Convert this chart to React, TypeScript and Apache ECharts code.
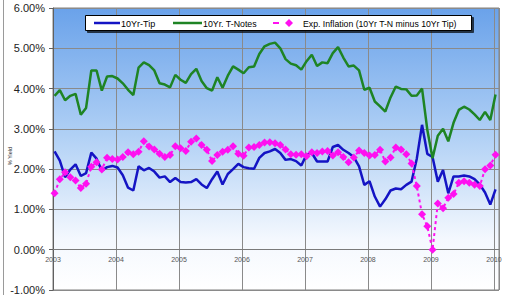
import React, { useEffect, useRef } from "react";
import * as echarts from "echarts";

// month-end observations, Dec 2002 .. Dec 2009
const firstYear = 2002;
const firstMonth = 12;
const monthCount = 85;
const months: string[] = [];
for (let k = 0; k < monthCount; k++) {
  const m0 = firstMonth - 1 + k;
  const y = firstYear + Math.floor(m0 / 12);
  const m = (m0 % 12) + 1;
  months.push(`${y}-${String(m).padStart(2, "0")}`);
}

const yearTicks = [2003, 2004, 2005, 2006, 2007, 2008, 2009, 2010];
const yTicks = [-1, 0, 1, 2, 3, 4, 5, 6];

const tip = [
  2.44, 2.21, 1.80, 1.99, 2.12, 1.83, 1.90, 2.41, 2.26, 1.96, 2.05, 2.08,
  2.04, 1.85, 1.54, 1.47, 2.07, 1.97, 2.03, 1.94, 1.79, 1.82, 1.68, 1.78,
  1.68, 1.67, 1.68, 1.75, 1.62, 1.53, 1.75, 1.94, 1.62, 1.88, 2.00, 2.13,
  2.05, 2.02, 2.01, 2.28, 2.40, 2.44, 2.50, 2.40, 2.23, 2.25, 2.20, 2.09,
  2.36, 2.40, 2.19, 2.19, 2.19, 2.55, 2.60, 2.48, 2.40, 2.30, 2.07, 1.61,
  1.70, 1.32, 1.07, 1.25, 1.47, 1.52, 1.50, 1.61, 1.69, 2.26, 3.10, 2.38,
  2.30, 1.69, 1.98, 1.40, 1.82, 1.82, 1.84, 1.82, 1.75, 1.62, 1.42, 1.12,
  1.50,
];

const tNotes = [
  3.82, 3.96, 3.71, 3.82, 3.87, 3.35, 3.52, 4.45, 4.45, 3.95, 4.30, 4.31,
  4.25, 4.13, 3.97, 3.84, 4.52, 4.65, 4.58, 4.45, 4.13, 4.10, 4.03, 4.34,
  4.22, 4.14, 4.36, 4.49, 4.19, 4.01, 3.95, 4.28, 4.02, 4.32, 4.55, 4.47,
  4.38, 4.53, 4.55, 4.86, 5.05, 5.11, 5.14, 5.00, 4.73, 4.62, 4.58, 4.47,
  4.68, 4.84, 4.56, 4.65, 4.63, 4.88, 5.03, 4.77, 4.55, 4.57, 4.45, 3.97,
  4.02, 3.68, 3.56, 3.43, 3.78, 4.05, 3.99, 3.98, 3.82, 3.83, 4.00, 2.98,
  2.27, 2.83, 3.00, 2.69, 3.15, 3.47, 3.55, 3.48, 3.36, 3.22, 3.42, 3.22,
  3.85,
];

const expInflation = [
  1.40, 1.75, 1.92, 1.80, 1.72, 1.53, 1.64, 2.06, 2.17, 1.99, 2.28, 2.25,
  2.24, 2.30, 2.42, 2.37, 2.43, 2.69, 2.56, 2.49, 2.38, 2.30, 2.35, 2.57,
  2.52, 2.45, 2.68, 2.76, 2.60, 2.48, 2.20, 2.35, 2.43, 2.48, 2.57, 2.38,
  2.33, 2.54, 2.55, 2.60, 2.66, 2.67, 2.64, 2.60, 2.49, 2.37, 2.36, 2.37,
  2.32, 2.42, 2.40, 2.44, 2.45, 2.34, 2.42, 2.30, 2.17, 2.29, 2.46, 2.40,
  2.34, 2.35, 2.48, 2.19, 2.29, 2.54, 2.49, 2.37, 2.14, 1.58, 0.88, 0.58,
  0.00, 1.15, 1.03, 1.29, 1.38, 1.66, 1.70, 1.66, 1.61, 1.58, 2.00, 2.09,
  2.36,
];

const seriesNames = [
  "10Yr-Tip",
  "10Yr. T-Notes",
  "Exp. Inflation (10Yr T-N minus 10Yr Tip)",
];

// month-end date -> decimal year (end of month ≈ start of next month)
const toX = (s: string) => {
  const [y, m] = s.split("-").map(Number);
  return y + m / 12 + 0.025;
};
const pair = (vals: number[]) => months.map((mo, i) => [toX(mo), vals[i]]);

const FONT = '"Liberation Sans", Arial, sans-serif';
const BLUE = "#1414C4";
const GREEN = "#1E8424";
const PINK = "#FF10F0";

const W = 506;
const H = 295;
const GRID = { left: 53, right: 7, top: 8, bottom: 5 };
const yMin = yTicks[0];
const yMax = yTicks[yTicks.length - 1];
// lift the date axis from the plot bottom (yMin) up to the zero line
const zeroOffset = -((0 - yMin) / (yMax - yMin)) * (H - GRID.top - GRID.bottom);

export default function App() {
  const ref = useRef<HTMLDivElement>(null);
  useEffect(() => {
    if (!ref.current) return;
    const chart = echarts.init(ref.current, undefined, { renderer: "svg" });
    const option: any = {
      animation: false,
      textStyle: { fontFamily: FONT },
      grid: {
        ...GRID,
        outerBoundsMode: "none",
        containLabel: false,
        show: true,
        borderColor: "#808080",
        borderWidth: 1,
        backgroundColor: {
          type: "linear",
          x: 0,
          y: 0,
          x2: 0,
          y2: 1,
          colorStops: [
            { offset: 0, color: "#6AA2EA" },
            { offset: 0.45, color: "#B0D0F5" },
            { offset: 0.82, color: "#F4F8FE" },
            { offset: 1, color: "#FFFFFF" },
          ],
        },
      },
      xAxis: {
        type: "value",
        position: "bottom",
        offset: zeroOffset,
        min: yearTicks[0],
        max: yearTicks[yearTicks.length - 1] + 0.08,
        interval: 1,
        axisLine: { onZero: false, lineStyle: { color: "#7a7a7a", width: 1 } },
        axisTick: { show: false },
        axisLabel: {
          fontSize: 7,
          color: "#555",
          margin: 6,
          fontFamily: FONT,
          formatter: (v: number) =>
            yearTicks.includes(Math.round(v * 1000) / 1000) ? String(Math.round(v)) : "",
        },
        splitLine: { show: true, lineStyle: { color: "#8a8a8a", width: 1 } },
      },
      yAxis: {
        type: "value",
        min: yMin,
        max: yMax,
        interval: 1,
        axisLine: { show: true, onZero: false, lineStyle: { color: "#606060" } },
        axisTick: { show: true, length: 4, lineStyle: { color: "#606060" } },
        axisLabel: {
          fontSize: 11,
          color: "#222",
          margin: 8,
          fontFamily: FONT,
          formatter: (v: number) => v.toFixed(2) + "%",
        },
        splitLine: { show: true, lineStyle: { color: "#8a8a8a", width: 1 } },
      },
      series: [
        {
          name: seriesNames[0],
          type: "line",
          data: pair(tip),
          symbol: "none",
          lineStyle: { color: BLUE, width: 2.5 },
          z: 2,
        },
        {
          name: seriesNames[1],
          type: "line",
          data: pair(tNotes),
          symbol: "none",
          lineStyle: { color: GREEN, width: 2.5 },
          z: 3,
        },
        {
          name: seriesNames[2],
          type: "line",
          data: pair(expInflation),
          symbol: "diamond",
          symbolSize: 8,
          itemStyle: { color: PINK },
          lineStyle: { color: PINK, width: 2, type: [3, 3] },
          z: 4,
        },
      ],
      graphic: [
        {
          type: "line",
          shape: { x1: 3.5, y1: 0, x2: 3.5, y2: 295 },
          style: { stroke: "#9a9a9a", lineWidth: 1 },
        },
        {
          type: "text",
          x: 10,
          y: 156,
          rotation: Math.PI / 2,
          style: {
            text: "% Yield",
            fontSize: 5.5,
            fontFamily: FONT,
            fill: "#333",
            align: "center",
            verticalAlign: "middle",
          },
        },
        {
          type: "rect",
          shape: { x: 85.5, y: 15.5, width: 386, height: 15 },
          style: {
            fill: "#ffffff",
            stroke: "#000",
            lineWidth: 1,
            shadowColor: "rgba(0,0,0,0.7)",
            shadowBlur: 1,
            shadowOffsetX: 2,
            shadowOffsetY: 2,
          },
          z: 10,
        },
        {
          type: "line",
          shape: { x1: 94, y1: 23, x2: 120, y2: 23 },
          style: { stroke: BLUE, lineWidth: 2.5 },
          z: 11,
        },
        {
          type: "text",
          x: 121,
          y: 23.5,
          style: { text: seriesNames[0], fontSize: 9, fontFamily: FONT, fill: "#000", verticalAlign: "middle" },
          z: 11,
        },
        {
          type: "line",
          shape: { x1: 173, y1: 23, x2: 202, y2: 23 },
          style: { stroke: GREEN, lineWidth: 2.5 },
          z: 11,
        },
        {
          type: "text",
          x: 203,
          y: 23.5,
          style: { text: seriesNames[1], fontSize: 8.8, fontFamily: FONT, fill: "#000", verticalAlign: "middle" },
          z: 11,
        },
        {
          type: "line",
          shape: { x1: 273, y1: 23, x2: 279, y2: 23 },
          style: { stroke: PINK, lineWidth: 2 },
          z: 11,
        },
        {
          type: "polygon",
          shape: { points: [[289, 19], [293, 23], [289, 27], [285, 23]] },
          style: { fill: PINK },
          z: 11,
        },
        {
          type: "text",
          x: 303,
          y: 23.5,
          style: { text: seriesNames[2], fontSize: 8.7, fontFamily: FONT, fill: "#000", verticalAlign: "middle" },
          z: 11,
        },
      ],
    };
    chart.setOption(option);
    return () => chart.dispose();
  }, []);
  return (
    <div
      ref={ref}
      style={{ position: "fixed", left: 0, top: 0, width: W, height: H, background: "#fff" }}
    />
  );
}
